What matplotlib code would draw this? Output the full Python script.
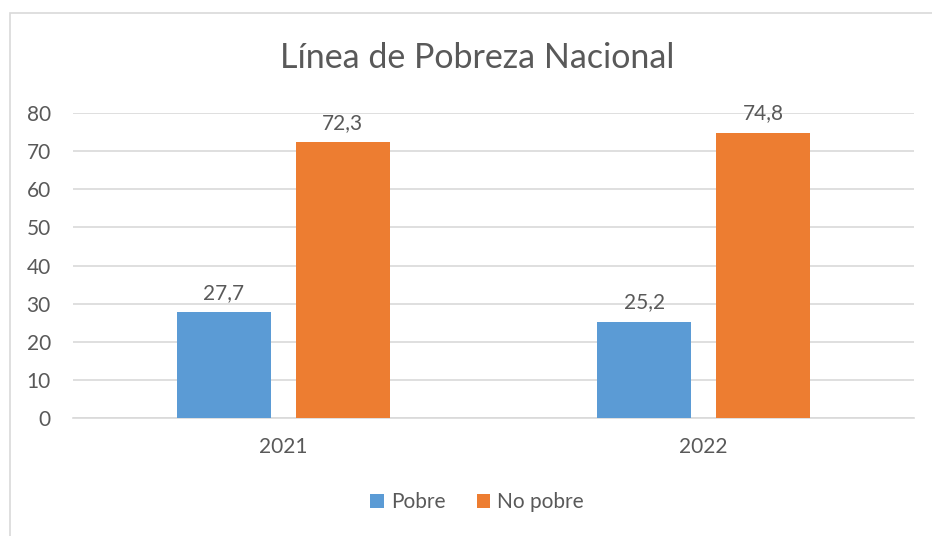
import matplotlib.pyplot as plt
import matplotlib.patches as mpatches
import numpy as np

# ─────────────────────────────────────
# DATA
# ─────────────────────────────────────
years = ["2021", "2022"]
pobre = [27.7, 25.2]
no_pobre = [72.3, 74.8]
series_names = ["Pobre", "No pobre"]
y_ticks = [0, 10, 20, 30, 40, 50, 60, 70, 80]

BLUE = "#5b9bd5"
ORANGE = "#ed7d31"
TEXT = "#595959"
GRID = "#d9d9d9"

plt.rcParams['font.family'] = ['Lato', 'DejaVu Sans']

W, H = 932, 536
fig = plt.figure(figsize=(W / 100, H / 100), dpi=100)

# outer chart border
fig.patches.append(mpatches.Rectangle((10 / W, -0.05), 1.2, 1 - 13 / H + 0.05,
                                      transform=fig.transFigure, fill=False,
                                      edgecolor=GRID, linewidth=1.2))

ax = fig.add_axes([73 / W, 1 - 418 / H, (914 - 73) / W, (418 - 113) / H])

x = np.arange(len(years))
off = 0.1415
width = 0.2236
b1 = ax.bar(x - off, pobre, width, color=BLUE, label=series_names[0], zorder=3)
b2 = ax.bar(x + off, no_pobre, width, color=ORANGE, label=series_names[1], zorder=3)

LBL = 15
for bars, vals in [(b1, pobre), (b2, no_pobre)]:
    for rect, v in zip(bars, vals):
        ax.annotate(f"{v:.1f}".replace(".", ","),
                    (rect.get_x() + rect.get_width() / 2, v),
                    xytext=(0, 7), textcoords="offset points",
                    ha="center", va="bottom", fontsize=LBL, color=TEXT)

ax.set_xlim(-0.5, 1.5)
ax.set_ylim(0, 80)
ax.set_yticks(y_ticks)
ax.set_xticks(x)
ax.set_xticklabels(years)
ax.tick_params(axis="both", length=0, labelsize=LBL, labelcolor=TEXT)
ax.tick_params(axis="y", pad=16)
ax.tick_params(axis="x", pad=14)
ax.yaxis.grid(True, color=GRID, linewidth=1.2, zorder=0)
for s in ax.spines.values():
    s.set_visible(False)
ax.spines["bottom"].set_visible(True)
ax.spines["bottom"].set_color(GRID)
ax.spines["bottom"].set_linewidth(1.2)

fig.text(477 / W, 1 - 58 / H, "Línea de Pobreza Nacional", ha="center", va="center",
         fontsize=24.5, color=TEXT)

fig.legend(handles=[b1, b2], loc="center", bbox_to_anchor=(477 / W, 1 - 502 / H),
           ncol=2, frameon=False, fontsize=LBL, labelcolor=TEXT,
           handlelength=0.65, handleheight=0.65, handletextpad=0.35, columnspacing=1.5)

plt.savefig("out.png", dpi=100)
